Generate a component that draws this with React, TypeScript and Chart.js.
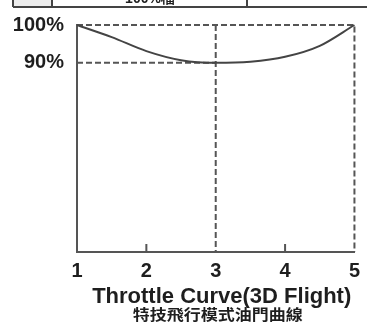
import React, { useEffect, useRef } from "react";
import { Chart, registerables } from "chart.js";

Chart.register(...registerables);

// Data
const positions = [1, 2, 3, 4, 5];
const curveX = [1, 1.5, 2, 2.5, 3, 3.5, 4, 4.5, 5];
const curveY = [100, 96.8, 93.1, 90.7, 90, 90.3, 91.6, 94.5, 100];
const yTickValues = [90, 100];
const titleText = "Throttle Curve(3D Flight)";
const subtitleText = "特技飛行模式油門曲線";
const topCellText = "100%檔";

const FONT = "'Liberation Sans', Arial, sans-serif";
const LINE = "#555";
const TEXT = "#1e1e1e";

const decorPlugin = {
  id: "decor",
  beforeDraw(chart: any) {
    const ctx = chart.ctx;
    ctx.save();
    // top table fragment
    ctx.fillStyle = "#ededed";
    ctx.fillRect(14, 0, 38, 6);
    ctx.strokeStyle = "#444";
    ctx.lineWidth = 2;
    ctx.beginPath();
    ctx.moveTo(13, 7);
    ctx.lineTo(367, 7);
    ctx.moveTo(13, 0);
    ctx.lineTo(13, 7);
    ctx.moveTo(52, 0);
    ctx.lineTo(52, 7);
    ctx.moveTo(247, 0);
    ctx.lineTo(247, 7);
    ctx.stroke();
    ctx.fillStyle = TEXT;
    ctx.font = `bold 14px ${FONT}`;
    ctx.textAlign = "center";
    ctx.textBaseline = "alphabetic";
    ctx.fillText(topCellText, 150, 3);
    ctx.restore();
  },
  afterDraw(chart: any) {
    const ctx = chart.ctx;
    const xs = chart.scales.x;
    const area = chart.chartArea;
    ctx.save();
    // upward tick marks at inner positions
    ctx.strokeStyle = LINE;
    ctx.lineWidth = 2;
    ctx.beginPath();
    [positions[1], positions[3]].forEach((v) => {
      const px = xs.getPixelForValue(v);
      ctx.moveTo(px, area.bottom);
      ctx.lineTo(px, area.bottom - 8);
    });
    ctx.stroke();
    // titles
    const cx = (area.left + area.right) / 2 + 6;
    ctx.fillStyle = TEXT;
    ctx.textAlign = "center";
    ctx.textBaseline = "alphabetic";
    ctx.font = `bold 22px ${FONT}`;
    ctx.fillText(titleText, cx, 303);
    ctx.font = `bold 17px 'Noto Sans CJK TC', sans-serif`;
    ctx.textBaseline = "top";
    ctx.save();
    ctx.translate(cx - 4, 307);
    ctx.scale(1, 0.85);
    ctx.fillText(subtitleText, 0, 0);
    ctx.restore();
    ctx.restore();
  },
};

export default function App() {
  const ref = useRef<HTMLCanvasElement | null>(null);
  useEffect(() => {
    if (!ref.current) return;
    const dashed = {
      borderColor: LINE,
      borderWidth: 2,
      borderDash: [6, 3],
      pointRadius: 0,
      fill: false,
      tension: 0,
      clip: false as any,
    };
    const chart = new Chart(ref.current, {
      type: "line",
      data: {
        datasets: [
          {
            data: curveX.map((x, i) => ({ x, y: curveY[i] })),
            borderColor: "#444",
            borderWidth: 2,
            pointRadius: 0,
            cubicInterpolationMode: "monotone",
            fill: false,
            clip: false as any,
          },
          {
            ...dashed,
            data: [
              { x: positions[0], y: yTickValues[1] },
              { x: positions[4], y: yTickValues[1] },
              { x: positions[4], y: 40 },
            ],
          },
          {
            ...dashed,
            data: [
              { x: positions[2], y: yTickValues[1] },
              { x: positions[2], y: 40 },
            ],
          },
          {
            ...dashed,
            data: [
              { x: positions[0], y: yTickValues[0] },
              { x: positions[2], y: yTickValues[0] },
            ],
          },
        ],
      },
      options: {
        animation: false,
        responsive: false,
        maintainAspectRatio: false,
        layout: { padding: { left: 0, top: 20, right: 9, bottom: 42 } },
        plugins: {
          legend: { display: false },
          tooltip: { enabled: false },
          title: { display: false },
        },
        scales: {
          x: {
            type: "linear",
            min: 1,
            max: 5,
            afterFit: (s: any) => {
              s.height = 30;
            },
            afterBuildTicks: (s: any) => {
              s.ticks = positions.map((v) => ({ value: v }));
            },
            ticks: {
              color: TEXT,
              font: { family: FONT, size: 20, weight: "bold" },
              padding: 7,
              maxRotation: 0,
              callback: (v: any) => String(v),
            },
            grid: { display: false, drawTicks: false },
            border: { display: true, color: LINE, width: 2 },
          },
          y: {
            type: "linear",
            min: 40,
            max: 100,
            afterFit: (s: any) => {
              s.width = 77;
            },
            afterBuildTicks: (s: any) => {
              s.ticks = yTickValues.map((v) => ({ value: v }));
            },
            ticks: {
              color: TEXT,
              font: { family: FONT, size: 20, weight: "bold" },
              padding: 13,
              callback: (v: any) => v + "%",
            },
            grid: { display: false, drawTicks: false },
            border: { display: true, color: LINE, width: 2 },
          },
        },
      },
      plugins: [decorPlugin],
    });
    return () => chart.destroy();
  }, []);
  return (
    <div style={{ position: "absolute", left: 0, top: 0, width: 367, height: 324, background: "#fff" }}>
      <canvas ref={ref} width={367} height={324} style={{ width: 367, height: 324 }} />
    </div>
  );
}
